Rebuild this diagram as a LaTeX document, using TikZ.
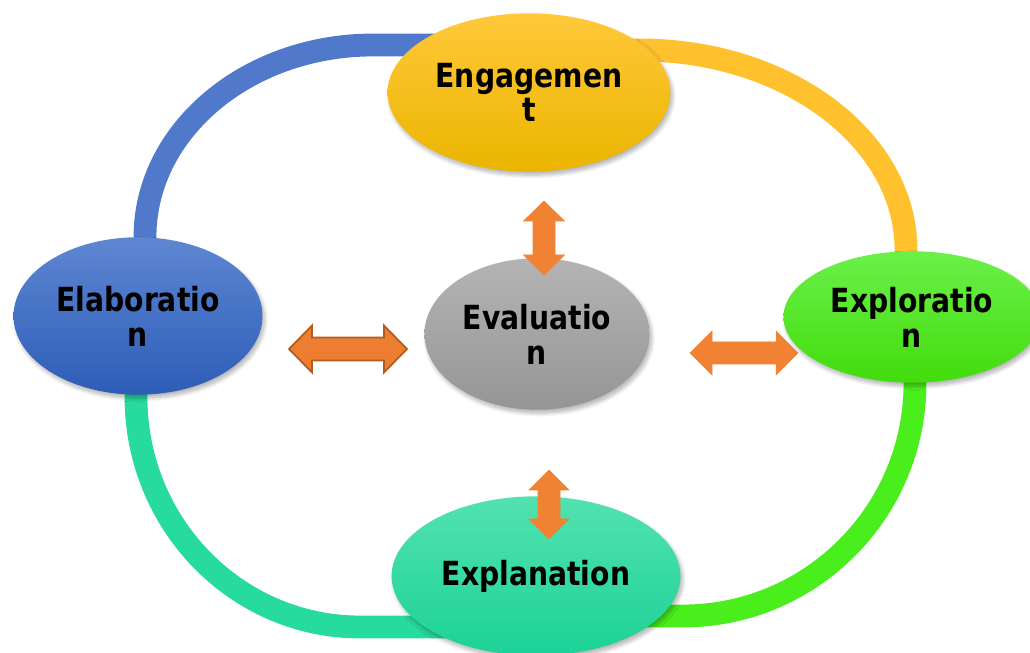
\documentclass[tikz,border=0pt]{standalone}
\usepackage{fontspec}
\setmainfont{DejaVu Sans}[FakeStretch=0.85]
\usetikzlibrary{shapes.geometric,shadows.blur}
\definecolor{ringblue}{HTML}{5079CC}
\definecolor{ringorange}{HTML}{FFC22E}
\definecolor{ringgreen}{HTML}{4AEE1C}
\definecolor{ringteal}{HTML}{27DA9E}
\definecolor{arrowfill}{HTML}{ED7D31}
\definecolor{arrowfillv}{HTML}{F18233}
\definecolor{arrowline}{HTML}{B35C22}
\definecolor{engT}{HTML}{FFC83A}\definecolor{engM}{HTML}{FFC000}\definecolor{engB}{HTML}{EBB500}
\definecolor{elaT}{HTML}{5E86D2}\definecolor{elaM}{HTML}{4472C4}\definecolor{elaB}{HTML}{2D5DB8}
\definecolor{evaT}{HTML}{B4B4B4}\definecolor{evaM}{HTML}{A5A5A5}\definecolor{evaB}{HTML}{959595}
\definecolor{exoT}{HTML}{6BF04A}\definecolor{exoM}{HTML}{50EC1A}\definecolor{exoB}{HTML}{42DC0C}
\definecolor{exaT}{HTML}{52E2B0}\definecolor{exaM}{HTML}{2ADCA2}\definecolor{exaB}{HTML}{1CD296}
\newcommand\blockarrow[6]{%
  \draw[shift={(#2)},#1] (-#3,0) -- ({-#3+#4},#5) -- ({-#3+#4},#6) -- ({#3-#4},#6) -- ({#3-#4},#5) -- (#3,0)
    -- ({#3-#4},-#5) -- ({#3-#4},-#6) -- ({-#3+#4},-#6) -- ({-#3+#4},-#5) -- cycle;}
\begin{document}
\begin{tikzpicture}[x=0.02cm,y=0.02cm,
  ring/.style={line width=13pt},
  stage/.style={ellipse, inner sep=0pt, align=center, text=black,
    font=\fontsize{18.9}{19.8}\selectfont\bfseries,
    blur shadow={shadow xshift=1.2pt, shadow yshift=-2pt, shadow blur steps=8, shadow opacity=30}},
  barrow/.style={fill=arrowfillv, draw=arrowfillv, line width=0.3pt},
  barrowb/.style={fill=arrowfill, draw=arrowline, line width=1pt, line join=miter}]
\useasboundingbox (0,0) rectangle (1030,652);
% ring
\draw[ring, draw=ringblue] (145,380) -- (145,415) arc[start angle=180, end angle=90, x radius=228, y radius=192] -- (440,607);
\draw[ring, draw=ringorange] (600,602) -- (640,602) arc[start angle=90, end angle=0, x radius=266, y radius=200] -- (906,370);
\draw[ring, draw=ringgreen] (915,300) -- (915,269) arc[start angle=0, end angle=-90, x radius=232, y radius=233] -- (620,36);
\draw[ring, draw=ringteal] (136,290) -- (136,255) arc[start angle=180, end angle=270, x radius=224, y radius=230] -- (480,25);
% stages
\node[stage, minimum width=161pt, minimum height=90.1pt, top color=engT, middle color=engM, bottom color=engB]
  (eng) at (529,559.5) {Engagemen\\t};
\node[stage, minimum width=141.7pt, minimum height=89.6pt, top color=elaT, middle color=elaM, bottom color=elaB]
  (ela) at (138,336) {Elaboratio\\n};
\node[stage, minimum width=128.1pt, minimum height=86.2pt, top color=evaT, middle color=evaM, bottom color=evaB]
  (eva) at (537,318) {Evaluatio\\n};
\node[stage, minimum width=146.3pt, minimum height=74.8pt, top color=exoT, middle color=exoM, bottom color=exoB]
  (exo) at (912,335) {Exploratio\\n};
\node[stage, minimum width=164.4pt, minimum height=90.7pt, top color=exaT, middle color=exaM, bottom color=exaB]
  (exa) at (536,76) {Explanation};
% arrows
\blockarrow{barrowb}{348,303}{59}{23}{23.5}{11.5}
\blockarrow{barrow}{744,299}{54}{22}{22}{11}
\blockarrow{barrow,rotate=90}{544,414}{37}{20}{20.5}{11}
\blockarrow{barrow,rotate=90}{549,147.5}{34.5}{20}{20}{11}
\end{tikzpicture}
\end{document}
